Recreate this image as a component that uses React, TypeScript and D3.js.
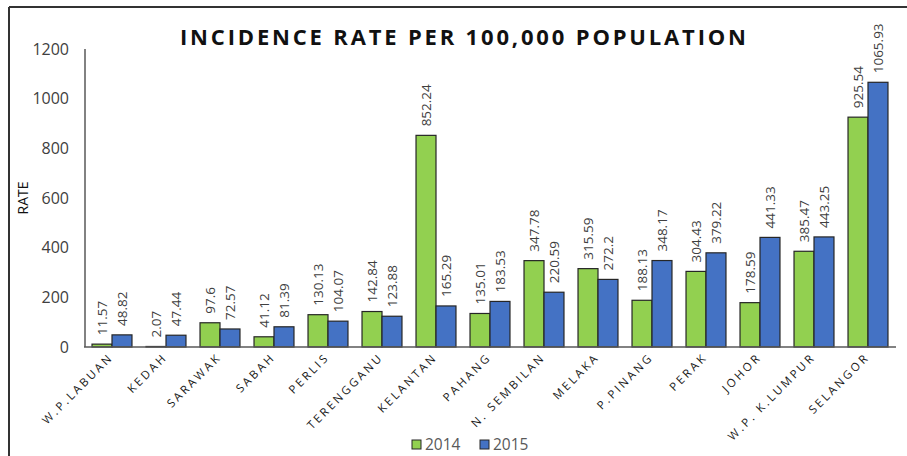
import React from "react";
import * as d3 from "d3";

const categories = [
  "W.P.LABUAN", "KEDAH", "SARAWAK", "SABAH", "PERLIS", "TERENGGANU", "KELANTAN",
  "PAHANG", "N. SEMBILAN", "MELAKA", "P.PINANG", "PERAK", "JOHOR", "W.P. K.LUMPUR", "SELANGOR",
];
const series2014 = [11.57, 2.07, 97.6, 41.12, 130.13, 142.84, 852.24, 135.01, 347.78, 315.59, 188.13, 304.43, 178.59, 385.47, 925.54];
const series2015 = [48.82, 47.44, 72.57, 81.39, 104.07, 123.88, 165.29, 183.53, 220.59, 272.2, 348.17, 379.22, 441.33, 443.25, 1065.93];
const seriesNames = ["2014", "2015"];
const yTicks = [0, 200, 400, 600, 800, 1000, 1200];
const title = "INCIDENCE RATE PER 100,000 POPULATION";

const W = 907;
const H = 456;
const colors: Record<string, string> = { "2014": "#92D050", "2015": "#4472C4" };
const FONT = "'Open Sans', 'Liberation Sans', sans-serif";

export default function App() {
  const x = d3.scaleBand<string>().domain(categories).range([85, 895]).paddingInner(0.26).paddingOuter(0.13);
  const x1 = d3.scaleBand<string>().domain(seriesNames).range([0, x.bandwidth()]);
  const y = d3.scaleLinear().domain([0, 1200]).range([347, 49]);
  const data = [series2014, series2015];

  return (
    <svg width={W} height={H} style={{ position: "absolute", left: 0, top: 0, background: "#fff" }} fontFamily={FONT}>
      <rect x={0} y={0} width={W} height={H} fill="#fff" />
      {/* frame */}
      <line x1={9} y1={7} x2={W} y2={7} stroke="#333" strokeWidth={2} />
      <line x1={9} y1={7} x2={9} y2={H} stroke="#333" strokeWidth={2} />

      {/* title */}
      <text x={180} y={45} fontSize={22} fontWeight="bold" fill="#111" textLength={566} lengthAdjust="spacing">
        {title}
      </text>

      {/* y axis label */}
      <text transform={`translate(28,198) rotate(-90)`} textAnchor="middle" fontSize={14} fill="#111">RATE</text>

      {/* y ticks */}
      {yTicks.map((t) => (
        <text key={t} x={69} y={y(t)} dy="0.35em" textAnchor="end" fontSize={16} fill="#404040">{t}</text>
      ))}

      {/* bars */}
      {categories.map((c, i) => (
        <g key={c} transform={`translate(${x(c)},0)`}>
          {seriesNames.map((s, si) => {
            const v = data[si][i];
            const bx = x1(s)!;
            const bw = x1.bandwidth();
            return (
              <g key={s}>
                <rect x={bx} y={y(v)} width={bw} height={y(0) - y(v)} fill={colors[s]} stroke="#262626" strokeWidth={1.2} />
                <text
                  transform={`translate(${bx + bw / 2},${y(v) - 9}) rotate(-90)`}
                  dy="0.35em"
                  fontSize={13.5}
                  fill="#404040"
                >
                  {v}
                </text>
              </g>
            );
          })}
        </g>
      ))}

      {/* axes lines */}
      <line x1={85} y1={49} x2={85} y2={347} stroke="#595959" strokeWidth={1.5} />
      <line x1={84} y1={347} x2={896} y2={347} stroke="#595959" strokeWidth={1.5} />

      {/* x labels */}
      {categories.map((c) => {
        const cx = x(c)! + x.bandwidth() / 2;
        return (
          <text
            key={c}
            transform={`translate(${cx + 2},${358}) rotate(-45)`}
            textAnchor="end"
            fontSize={11.5}
            letterSpacing={2.6}
            fill="#1a1a1a"
          >
            {c}
          </text>
        );
      })}

      {/* legend */}
      {seriesNames.map((s, i) => {
        const lx = 412 + i * 68;
        return (
          <g key={s}>
            <rect x={lx} y={440} width={9} height={9} fill={colors[s]} stroke="#262626" strokeWidth={1} />
            <text x={lx + 13} y={450} fontSize={15.5} fill="#595959">{s}</text>
          </g>
        );
      })}
    </svg>
  );
}
